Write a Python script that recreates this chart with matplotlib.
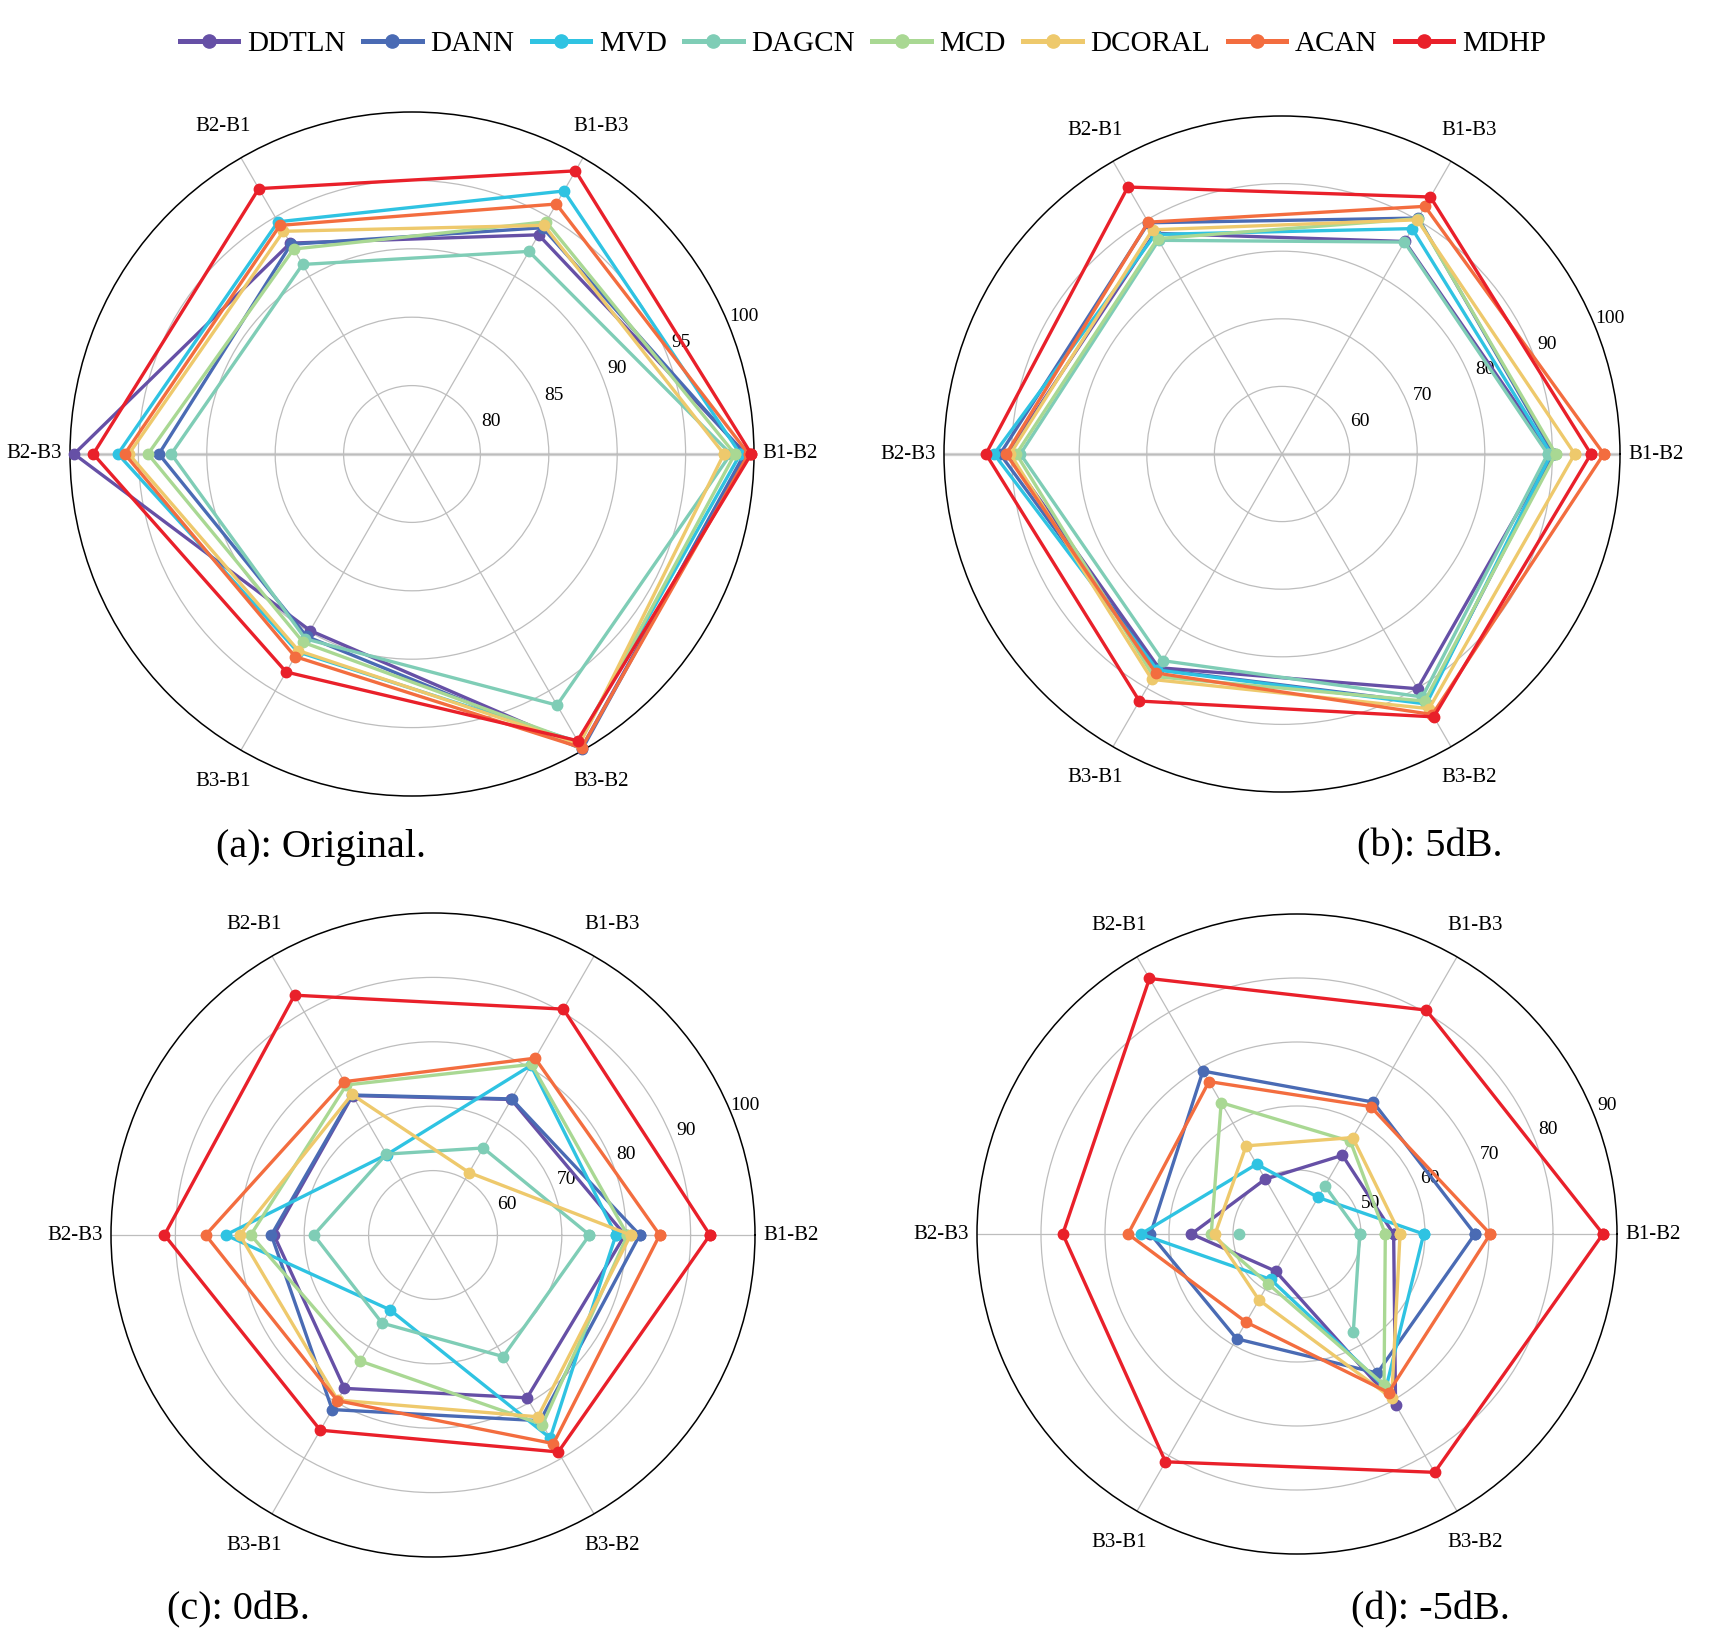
import numpy as np
import matplotlib
matplotlib.use("Agg")
import matplotlib.pyplot as plt
from matplotlib.lines import Line2D

plt.rcParams["font.family"] = ["Liberation Serif", "DejaVu Serif"]

methods = ["DDTLN", "DANN", "MVD", "DAGCN", "MCD", "DCORAL", "ACAN", "MDHP"]
colors = ["#6650a6", "#4a6bb4", "#2fc3e2", "#7fcdb6", "#a9d893", "#eec96c", "#f36d3f", "#e9202a"]
tasks = ["B1-B2", "B1-B3", "B2-B1", "B2-B3", "B3-B1", "B3-B2"]

# accuracy (%) per method, one column per task (order of `tasks`)
acc_orig = [
    [99.4, 93.5, 92.8, 99.7, 89.9, 99.8],
    [99.3, 94.1, 92.7, 93.5, 90.4, 99.9],
    [99.0, 97.2, 94.6, 96.5, 91.7, 99.3],
    [98.3, 92.1, 91.0, 92.6, 90.6, 96.2],
    [98.6, 94.6, 92.3, 94.3, 90.9, 99.4],
    [97.8, 94.3, 93.8, 95.7, 91.6, 99.5],
    [99.6, 96.1, 94.3, 96.0, 92.1, 99.8],
    [99.8, 98.9, 97.4, 98.3, 93.4, 99.2],
]
acc_5db = [
    [89.8, 86.3, 87.7, 90.6, 86.5, 90.1],
    [90.2, 90.3, 89.5, 91.7, 86.8, 92.5],
    [89.8, 88.5, 87.5, 92.6, 86.9, 92.7],
    [89.3, 86.2, 86.5, 88.7, 85.3, 91.5],
    [90.5, 90.2, 86.8, 89.3, 88.0, 92.2],
    [93.3, 90.0, 88.3, 90.2, 88.5, 93.5],
    [97.6, 92.3, 89.6, 90.8, 87.4, 94.5],
    [95.7, 93.9, 95.6, 93.8, 92.2, 94.9],
]
acc_0db = [
    [79.8, 74.3, 75.0, 74.7, 77.5, 79.2],
    [82.1, 74.4, 75.1, 75.1, 81.3, 83.3],
    [78.4, 80.4, 64.4, 82.2, 63.4, 86.4],
    [74.3, 65.6, 64.5, 68.5, 65.8, 71.8],
    [80.2, 80.6, 76.9, 78.3, 72.6, 84.0],
    [80.7, 61.2, 75.2, 80.0, 79.6, 82.6],
    [85.2, 81.7, 77.5, 85.3, 79.7, 87.4],
    [93.0, 90.5, 93.0, 91.7, 85.0, 88.9],
]
# nan: below the axis minimum (40), not drawn in the original
acc_m5db = [
    [55.1, 54.2, 49.9, 56.5, 46.7, 70.8],
    [67.8, 63.8, 69.4, 62.9, 58.9, 65.1],
    [59.8, 46.6, 52.6, 64.4, 48.2, 67.8],
    [49.8, 48.7, np.nan, 49.1, np.nan, 57.6],
    [53.8, 56.7, 63.7, 53.4, 49.0, 67.2],
    [56.1, 57.4, 55.9, 52.8, 51.9, 69.6],
    [70.2, 63.0, 67.5, 66.4, 55.9, 68.6],
    [87.8, 80.4, 86.1, 76.6, 81.1, 83.0],
]

panels = [
    # data, rmin, rmax, rticks, caption, centre (px), radius (px), caption pos (px)
    (acc_orig, 75, 100, [80, 85, 90, 95, 100], "(a): Original.", (412, 454), 342, (321, 847)),
    (acc_5db, 50, 100, [60, 70, 80, 90, 100], "(b): 5dB.", (1282, 454), 338, (1430, 847)),
    (acc_0db, 50, 100, [60, 70, 80, 90, 100], "(c): 0dB.", (433, 1235), 322, (238, 1610)),
    (acc_m5db, 40, 90, [50, 60, 70, 80, 90], "(d): -5dB.", (1297, 1234), 320, (1430, 1610)),
]

W, H = 1725, 1635
fig = plt.figure(figsize=(W / 100, H / 100), dpi=100)
angles = np.deg2rad(np.arange(0, 360, 60))
ang_c = np.append(angles, angles[0])

for k, (data, rmin, rmax, rticks, cap, (cx, cy), R, (tx, ty)) in enumerate(panels):
    ax = fig.add_axes([(cx - R) / W, 1 - (cy + R) / H, 2 * R / W, 2 * R / H], projection="polar")
    ax.set_ylim(rmin, rmax)
    ax.set_yticks(rticks[:-1])
    ax.set_yticklabels([])
    ax.set_xticks(angles)
    ax.set_xticklabels([])
    ax.grid(color="#bdbdbd", lw=0.9)
    ax.spines["polar"].set_color("black")
    ax.spines["polar"].set_linewidth(1.1)
    if k < 2:  # horizontal spoke drawn heavier in the top panels
        ax.plot([0, 0], [rmin, rmax], color="#d4d4d4", lw=2.4, zorder=1)
        ax.plot([np.pi, np.pi], [rmin, rmax], color="#d4d4d4", lw=2.4, zorder=1)
    for vals, c in zip(data, colors):
        v = np.append(vals, vals[0])
        ax.plot(ang_c, v, "-o", color=c, lw=2.4, ms=7.5, zorder=3, clip_on=False)
    # radial tick labels along 22.5 deg
    a = np.deg2rad(22.5)
    for t in rticks:
        rr = 0.5 * (t - rmin) / (rmax - rmin) + 0.025
        ax.text(0.5 + rr * np.cos(a), 0.5 + rr * np.sin(a), str(t), transform=ax.transAxes,
                ha="center", va="center", fontsize=14, zorder=2)
    # task labels just outside the circle
    off = 0.5 + 36 / (2 * R)
    for th, lab in zip(angles, tasks):
        ax.text(0.5 + off * np.cos(th), 0.5 + off * np.sin(th), lab, transform=ax.transAxes,
                ha="center", va="center", fontsize=15)
    fig.text(tx / W, 1 - ty / H, cap, ha="center", va="center", fontsize=29)

handles = [Line2D([], [], color=c, lw=3.6, marker="o", ms=9.5) for c in colors]
fig.legend(handles, methods, loc="center", bbox_to_anchor=(863 / W, 1 - 44 / H), ncol=8,
           frameon=False, fontsize=21, handlelength=2.0, handletextpad=0.3, columnspacing=0.6)
fig.savefig("out.png", dpi=100)
